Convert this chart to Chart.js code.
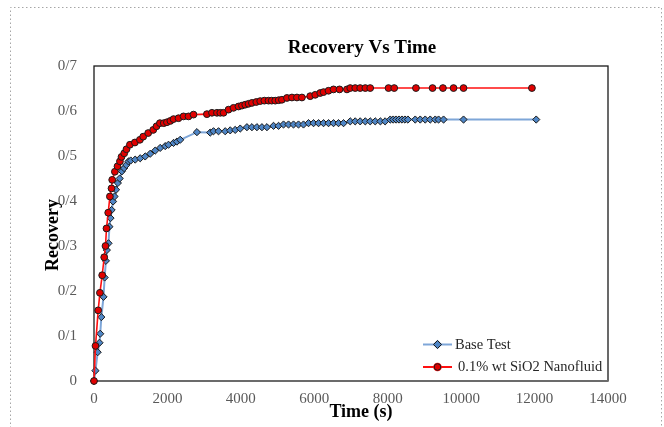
<!DOCTYPE html>
<html><head><meta charset="utf-8">
<script src="https://cdn.jsdelivr.net/npm/chart.js@4/dist/chart.umd.min.js"></script>
<style>html,body{margin:0;padding:0;background:#fff;overflow:hidden}</style>
</head><body>
<canvas id="c" width="664" height="427" style="display:block;width:664px;height:427px"></canvas>
<script>
const chartTitle = 'Recovery Vs Time';
const xTitle = 'Time (s)';
const yTitle = 'Recovery';
const seriesNames = ['Base Test', '0.1% wt SiO2 Nanofluid'];

const baseTime = [0,40,100,150,169,200,259,290,324,350,395,420,450,480,520,560,600,650,700,760,820,880,940,1000,1122,1259,1395,1531,1667,1803,1940,2029,2166,2258,2348,2803,3165,3255,3392,3574,3710,3846,3983,4165,4301,4437,4574,4710,4890,5026,5162,5298,5434,5570,5706,5843,5980,6116,6252,6388,6524,6660,6797,6979,7115,7250,7390,7523,7660,7800,7930,8069,8150,8230,8310,8390,8470,8550,8750,8886,9022,9158,9295,9385,9521,10065,12045];
const baseRecovery = [0,0.023,0.064,0.085,0.105,0.142,0.187,0.230,0.267,0.291,0.306,0.343,0.362,0.380,0.399,0.410,0.425,0.440,0.450,0.466,0.473,0.480,0.488,0.490,0.492,0.495,0.499,0.505,0.512,0.518,0.522,0.525,0.529,0.532,0.536,0.553,0.552,0.555,0.555,0.555,0.557,0.558,0.561,0.564,0.564,0.564,0.564,0.564,0.567,0.567,0.570,0.570,0.570,0.570,0.570,0.573,0.573,0.573,0.573,0.573,0.573,0.573,0.573,0.577,0.577,0.577,0.577,0.577,0.577,0.577,0.577,0.581,0.581,0.581,0.581,0.581,0.581,0.581,0.581,0.581,0.581,0.581,0.581,0.581,0.581,0.581,0.581];

const nanoTime = [0,41,114,161,223,278,313,340,387,433,477,496,569,640,706,749,823,885,978,1114,1250,1340,1476,1613,1703,1795,1900,1986,2080,2166,2302,2438,2574,2710,3075,3212,3348,3440,3528,3664,3800,3936,4030,4119,4210,4301,4420,4527,4640,4753,4840,4936,5030,5118,5255,5391,5527,5663,5889,6026,6162,6252,6388,6524,6687,6889,6979,7115,7250,7390,7523,8022,8177,8769,9221,9504,9793,10065,11928];
const nanoRecovery = [0,0.078,0.157,0.196,0.235,0.275,0.300,0.339,0.374,0.410,0.428,0.447,0.465,0.477,0.488,0.498,0.506,0.515,0.525,0.530,0.536,0.543,0.551,0.558,0.566,0.573,0.573,0.575,0.578,0.582,0.584,0.588,0.588,0.592,0.593,0.596,0.596,0.596,0.596,0.603,0.607,0.610,0.612,0.614,0.616,0.618,0.620,0.622,0.623,0.623,0.623,0.623,0.624,0.625,0.629,0.630,0.630,0.630,0.633,0.636,0.640,0.642,0.645,0.648,0.648,0.648,0.651,0.651,0.651,0.651,0.651,0.651,0.651,0.651,0.651,0.651,0.651,0.651,0.651];

const xTickLabels = ['0','2000','4000','6000','8000','10000','12000','14000'];
const yTickLabels = ['0','0/1','0/2','0/3','0/4','0/5','0/6','0/7'];

const FONT = "'Liberation Serif', 'Times New Roman', serif";
const blueLine = '#7ea6d8';
const blueFill = '#4f86c6';
const redLine = '#ff1010';
const redFill = '#e00000';
const markEdge = '#1b1b1b';

function pts(xs, ys) { return xs.map((x, i) => ({ x: x, y: ys[i] })); }

const decor = {
  id: 'decor',
  beforeDraw(chart) {
    const ctx = chart.ctx;
    ctx.save();
    ctx.fillStyle = '#fff';
    ctx.fillRect(0, 0, chart.width, chart.height);
    ctx.strokeStyle = '#a6a6a6';
    ctx.lineWidth = 1;
    ctx.setLineDash([1.5, 2.5]);
    ctx.beginPath();
    ctx.moveTo(10.5, 440); ctx.lineTo(10.5, 7.5); ctx.lineTo(661.5, 7.5); ctx.lineTo(661.5, 440);
    ctx.stroke();
    ctx.restore();
  },
  beforeDatasetsDraw(chart) {
    const ctx = chart.ctx, a = chart.chartArea;
    ctx.save();
    ctx.strokeStyle = '#1a1a1a';
    ctx.lineWidth = 1.3;
    ctx.strokeRect(a.left, a.top, a.right - a.left, a.bottom - a.top);
    ctx.strokeStyle = '#6b6b6b';
    ctx.lineWidth = 1.8;
    ctx.beginPath(); ctx.moveTo(a.left, a.bottom); ctx.lineTo(a.right, a.bottom); ctx.stroke();
    ctx.restore();
  },
  afterDraw(chart) {
    const ctx = chart.ctx;
    ctx.save();
    ctx.fillStyle = '#000';
    ctx.textAlign = 'center';
    ctx.textBaseline = 'middle';
    ctx.font = 'bold 19px ' + FONT;
    ctx.fillText(chartTitle, 362, 48);
    ctx.font = 'bold 18px ' + FONT;
    ctx.fillText(xTitle, 361, 412);
    ctx.save();
    ctx.translate(53, 235);
    ctx.rotate(-Math.PI / 2);
    ctx.fillText(yTitle, 0, 0);
    ctx.restore();
    // legend
    const items = [
      { y: 344.5, line: blueLine, fill: blueFill, style: 'rectRot' },
      { y: 367, line: redLine, fill: redFill, style: 'circle' }
    ];
    ctx.font = '14.5px ' + FONT;
    ctx.textAlign = 'left';
    items.forEach((it, i) => {
      ctx.strokeStyle = it.line;
      ctx.lineWidth = 2;
      ctx.beginPath(); ctx.moveTo(423, it.y); ctx.lineTo(452, it.y); ctx.stroke();
      Chart.helpers.drawPoint(ctx, { pointStyle: it.style, radius: 3.3, borderWidth: 1 }, 437.5, it.y);
      ctx.fillStyle = it.fill; ctx.strokeStyle = markEdge; ctx.lineWidth = 1;
      ctx.beginPath();
      if (it.style === 'circle') { ctx.arc(437.5, it.y, 3.3, 0, Math.PI * 2); }
      else { ctx.moveTo(437.5, it.y - 4); ctx.lineTo(441.5, it.y); ctx.lineTo(437.5, it.y + 4); ctx.lineTo(433.5, it.y); ctx.closePath(); }
      ctx.fill(); ctx.stroke();
      ctx.fillStyle = '#262626';
      ctx.fillText(seriesNames[i], i === 0 ? 455 : 458, it.y + 0.5);
    });
    ctx.restore();
  }
};

new Chart(document.getElementById('c'), {
  type: 'scatter',
  data: {
    datasets: [
      {
        label: seriesNames[0], data: pts(baseTime, baseRecovery), showLine: true,
        borderColor: blueLine, borderWidth: 2, backgroundColor: blueFill,
        pointStyle: 'rectRot', pointRadius: 3.6, pointBorderColor: markEdge, pointBorderWidth: 1,
        pointBackgroundColor: blueFill, order: 2, clip: false, tension: 0
      },
      {
        label: seriesNames[1], data: pts(nanoTime, nanoRecovery), showLine: true,
        borderColor: redLine, borderWidth: 1.6, backgroundColor: redFill,
        pointStyle: 'circle', pointRadius: 3.4, pointBorderColor: markEdge, pointBorderWidth: 1,
        pointBackgroundColor: redFill, order: 1, clip: false, tension: 0
      }
    ]
  },
  options: {
    responsive: false,
    animation: false,
    devicePixelRatio: 1,
    layout: { padding: { left: 0, top: 66, right: 56, bottom: 0 } },
    plugins: { legend: { display: false }, title: { display: false }, tooltip: { enabled: false } },
    scales: {
      x: {
        type: 'linear', min: 0, max: 14000,
        afterFit(s) { s.height = 46; },
        afterBuildTicks(s) { s.ticks = xTickLabels.map(t => ({ value: Number(t) })); },
        grid: { display: false, drawTicks: false },
        border: { display: false },
        ticks: {
          padding: 9, color: '#595959', font: { family: FONT, size: 15 },
          maxRotation: 0, autoSkip: false,
          callback: (v, i) => xTickLabels[i]
        }
      },
      y: {
        type: 'linear', min: 0, max: 0.7,
        afterFit(s) { s.width = 94; },
        afterBuildTicks(s) { s.ticks = yTickLabels.map((t, i) => ({ value: i / 10 })); },
        grid: { display: false, drawTicks: false },
        border: { display: false },
        ticks: {
          padding: 17, color: '#595959', font: { family: FONT, size: 15 },
          autoSkip: false,
          callback: (v, i) => yTickLabels[i]
        }
      }
    }
  },
  plugins: [decor]
});
</script>
</body></html>
